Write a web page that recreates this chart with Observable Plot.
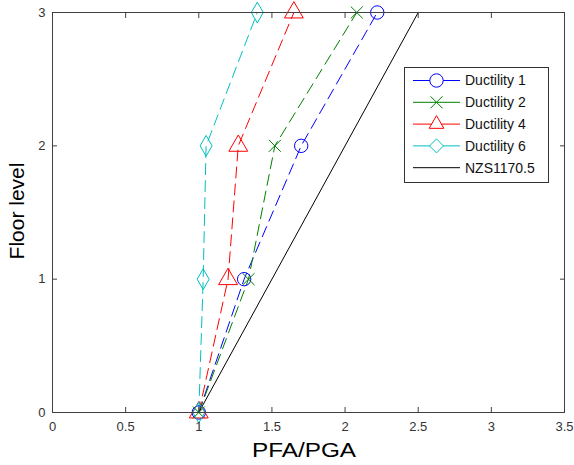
<!DOCTYPE html>
<html><head><meta charset="utf-8">
<script src="https://cdn.jsdelivr.net/npm/d3@7"></script>
<script src="https://cdn.jsdelivr.net/npm/@observablehq/plot@0.6"></script>
<style>body{margin:0;background:#fff}#c{position:relative;width:574px;height:465px}</style>
</head><body><div id="c"></div>
<script>
const floors = [0, 1, 2, 3];
const ductility1 = [1.0, 1.31, 1.70, 2.22];
const ductility2 = [1.0, 1.34, 1.52, 2.08];
const ductility4 = [1.0, 1.20, 1.27, 1.65];
const ductility6 = [1.0, 1.03, 1.05, 1.40];
const nzsPFA = [1.0, 2.5];
const nzsFloor = [0, 3];
const xTicks = [0, 0.5, 1, 1.5, 2, 2.5, 3, 3.5];
const yTicks = [0, 1, 2, 3];

const series = [
  {name: "Ductility 1", vals: ductility1, color: "#0000ff", symbol: "circle", r: 6.7},
  {name: "Ductility 2", vals: ductility2, color: "#008000", symbol: "times", r: 5.5},
  {name: "Ductility 4", vals: ductility4, color: "#ff0000", symbol: "triangle", r: 7.0},
  {name: "Ductility 6", vals: ductility6, color: "#00bfbf", symbol: "diamond", r: 6.3}
];
const nzs = nzsPFA.map((x, i) => ({x, y: nzsFloor[i]}));

const marks = [];
for (const s of series) {
  const d = s.vals.map((x, i) => ({x, y: floors[i]}));
  marks.push(Plot.line(d, {x: "x", y: "y", stroke: s.color, strokeWidth: 1, strokeDasharray: "11,6"}));
}
marks.push(Plot.line(nzs, {x: "x", y: "y", stroke: "#000", strokeWidth: 1}));
for (const s of series) {
  const d = s.vals.map((x, i) => ({x, y: floors[i]}));
  marks.push(Plot.dot(d, {x: "x", y: "y", stroke: s.color, fill: "none", symbol: () => s.symbol, r: s.r, strokeWidth: 1}));
}
const axc = "#404040";
marks.push(
  Plot.axisX({anchor: "bottom", ticks: xTicks, tickFormat: d => String(d), tickSize: -5, tickPadding: 14, stroke: axc, color: "#333", fontSize: 13, label: null}),
  Plot.axisX({anchor: "top", ticks: xTicks, tickFormat: () => "", tickSize: -5, stroke: axc, label: null}),
  Plot.axisY({anchor: "left", ticks: yTicks, tickFormat: d => String(d), tickSize: -5, tickPadding: 12, stroke: axc, color: "#333", fontSize: 13, label: null}),
  Plot.axisY({anchor: "right", ticks: yTicks, tickFormat: () => "", tickSize: -5, stroke: axc, label: null}),
  Plot.frame({stroke: axc, strokeWidth: 1})
);

const plot = Plot.plot({
  width: 574, height: 465,
  marginLeft: 52, marginRight: 10, marginTop: 12, marginBottom: 53,
  style: {fontFamily: "Arial, 'Liberation Sans', sans-serif", background: "#fff"},
  x: {domain: [0, 3.5]},
  y: {domain: [0, 3]},
  marks
});
document.getElementById("c").appendChild(plot);

const svg = d3.select(plot);
const ff = "Arial, 'Liberation Sans', sans-serif";
// axis titles
svg.append("text").attr("x", 304).attr("y", 457).attr("text-anchor", "middle")
  .attr("font-size", 21).attr("font-family", ff).attr("fill", "#000")
  .attr("textLength", 104).attr("lengthAdjust", "spacingAndGlyphs").text("PFA/PGA");
svg.append("text").attr("transform", "translate(24,211) rotate(-90)").attr("text-anchor", "middle")
  .attr("font-size", 21).attr("font-family", ff).attr("fill", "#000").text("Floor level");

// legend
const lg = svg.append("g").attr("text-anchor", "start");
lg.append("rect").attr("x", 404.5).attr("y", 67.5).attr("width", 144).attr("height", 115)
  .attr("fill", "#fff").attr("stroke", "#333");
const symMap = {circle: d3.symbolCircle, times: d3.symbolTimes, triangle: d3.symbolTriangle2, diamond: d3.symbolDiamond2};
const entries = [...series, {name: "NZS1170.5", color: "#000", symbol: null}];
entries.forEach((s, i) => {
  const cy = 80.5 + i * 21.8;
  lg.append("line").attr("x1", 413).attr("x2", 460).attr("y1", cy).attr("y2", cy).attr("stroke", s.color);
  if (s.symbol) {
    lg.append("path").attr("transform", `translate(436.5,${cy})`)
      .attr("d", d3.symbol(symMap[s.symbol], Math.PI * s.r * s.r)()).attr("fill", s.symbol === "times" ? "none" : "#fff").attr("stroke", s.color);
  }
  lg.append("text").attr("x", 465).attr("y", cy).attr("dy", "0.35em").attr("font-size", 14)
    .attr("text-anchor", "start").attr("font-family", ff).attr("fill", "#111").text(s.name);
});
</script></body></html>
